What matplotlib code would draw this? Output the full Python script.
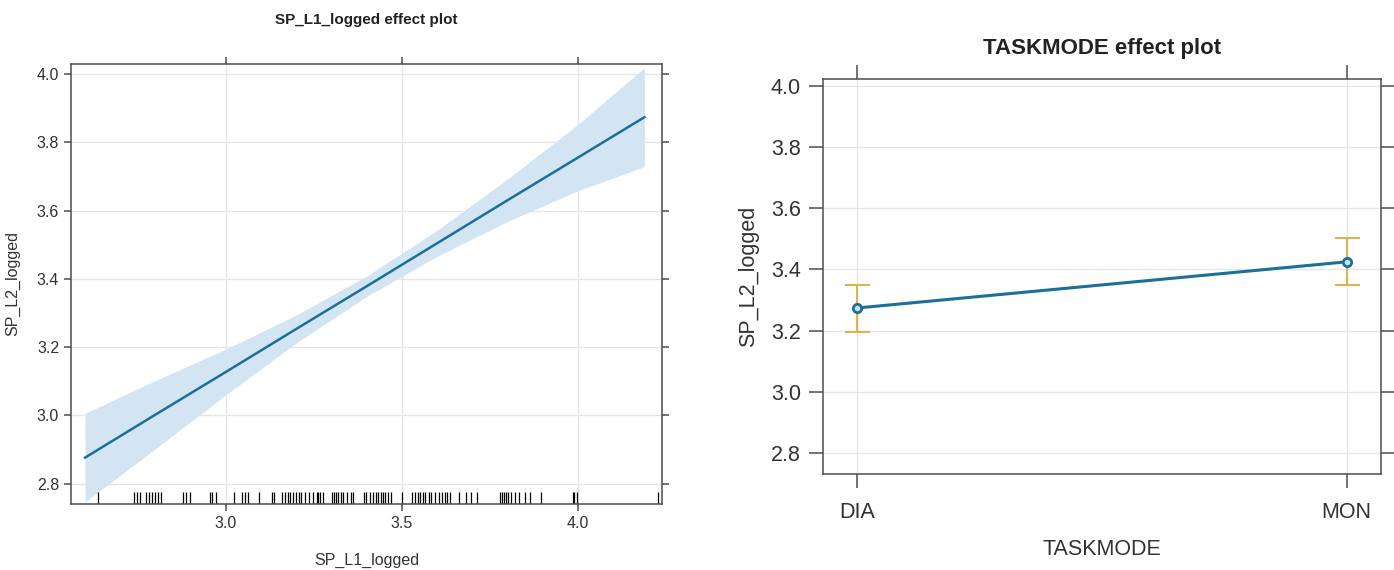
import numpy as np
import matplotlib.pyplot as plt
from matplotlib.transforms import blended_transform_factory

plt.rcParams['font.family'] = ['Liberation Sans', 'DejaVu Sans']

# left panel: fitted effect of SP_L1_logged with confidence band
sp_l1 = [2.60, 2.80, 3.00, 3.20, 3.40, 3.60, 3.80, 4.00, 4.19]
fit = [2.876, 3.002, 3.127, 3.253, 3.378, 3.504, 3.630, 3.755, 3.874]
lower = [2.746, 2.902, 3.060, 3.212, 3.348, 3.466, 3.568, 3.658, 3.729]
upper = [3.006, 3.102, 3.194, 3.294, 3.408, 3.542, 3.692, 3.852, 4.019]

# observed SP_L1_logged values (rug)
rug = [2.637, 2.739, 2.747, 2.755, 2.774, 2.783, 2.790, 2.799, 2.807, 2.815,
       2.877, 2.886, 2.899, 2.955, 2.962, 2.973, 3.024, 3.046, 3.054, 3.062,
       3.095, 3.130, 3.138, 3.160, 3.168, 3.176, 3.182, 3.192, 3.200, 3.209,
       3.214, 3.225, 3.236, 3.247, 3.258, 3.263, 3.268, 3.276, 3.301, 3.307,
       3.312, 3.320, 3.328, 3.334, 3.345, 3.355, 3.363, 3.393, 3.399, 3.410,
       3.418, 3.426, 3.434, 3.440, 3.448, 3.453, 3.462, 3.470, 3.502, 3.529,
       3.538, 3.546, 3.551, 3.560, 3.567, 3.578, 3.582, 3.595, 3.605, 3.614,
       3.622, 3.629, 3.636, 3.663, 3.682, 3.698, 3.714, 3.779, 3.785, 3.790,
       3.796, 3.801, 3.812, 3.823, 3.834, 3.850, 3.864, 3.897, 3.986, 3.991,
       3.997, 4.230]

# right panel: TASKMODE effect
modes = ['DIA', 'MON']
mode_fit = [3.274, 3.425]
mode_low = [3.195, 3.348]
mode_high = [3.348, 3.503]

line_col = '#1b6f98'
band_col = '#d3e5f2'
err_col = '#d9b451'
grid_col = '#e6e6e6'
spine_col = '#4d4d4d'
text_col = '#333333'

W, H = 1394, 570
fig = plt.figure(figsize=(W / 100, H / 100), dpi=100)


def px_axes(x0, y0, x1, y1):
    return fig.add_axes([x0 / W, 1 - y1 / H, (x1 - x0) / W, (y1 - y0) / H])


def style(ax, size, ticklen):
    for s in ax.spines.values():
        s.set_color(spine_col)
        s.set_linewidth(1.1)
    ax.tick_params(direction='out', length=ticklen, width=1.1, color=spine_col,
                   labelsize=size, labelcolor=text_col,
                   top=True, right=True, labeltop=False, labelright=False)
    ax.grid(True, color=grid_col, lw=1)
    ax.set_axisbelow(True)


# ---- left panel
ax1 = px_axes(71, 64, 662, 504)
ax1.fill_between(sp_l1, lower, upper, color=band_col, lw=0)
ax1.plot(sp_l1, fit, color=line_col, lw=1.8)
trans = blended_transform_factory(ax1.transData, ax1.transAxes)
ax1.vlines(rug, 0, 0.028, transform=trans, color='black', lw=0.9)
ax1.set_xlim(2.56, 4.24)
ax1.set_ylim(2.74, 4.03)
ax1.set_xticks([3.0, 3.5, 4.0])
ax1.set_yticks([2.8, 3.0, 3.2, 3.4, 3.6, 3.8, 4.0])
ax1.xaxis.set_major_formatter(plt.FormatStrFormatter('%.1f'))
ax1.yaxis.set_major_formatter(plt.FormatStrFormatter('%.1f'))
style(ax1, 11.5, 5)
ax1.set_xlabel('SP_L1_logged', fontsize=11.5, color=text_col, labelpad=16)
ax1.set_ylabel('SP_L2_logged', fontsize=11.5, color=text_col, labelpad=12)
ax1.set_title('SP_L1_logged effect plot', fontsize=11, fontweight='bold',
              color='#222222', pad=29)

# ---- right panel
ax2 = px_axes(823, 79, 1381, 474)
xpos = np.arange(1, len(modes) + 1)
err = [np.array(mode_fit) - np.array(mode_low), np.array(mode_high) - np.array(mode_fit)]
ax2.errorbar(xpos, mode_fit, yerr=err, fmt='none', ecolor=err_col, elinewidth=1.5,
             capsize=9, capthick=1.5)
ax2.plot(xpos, mode_fit, color=line_col, lw=2.2, marker='o', ms=6,
         mfc='#cfe3f0', mec=line_col, mew=2)
ax2.set_xlim(0.93, 2.07)
ax2.set_ylim(2.731, 4.023)
ax2.set_xticks(xpos)
ax2.set_xticklabels(modes)
ax2.set_yticks([2.8, 3.0, 3.2, 3.4, 3.6, 3.8, 4.0])
ax2.yaxis.set_major_formatter(plt.FormatStrFormatter('%.1f'))
style(ax2, 15.5, 10)
ax2.tick_params(axis='x', pad=10)
ax2.tick_params(axis='y', pad=6)
ax2.set_xlabel('TASKMODE', fontsize=15.5, color=text_col, labelpad=12)
ax2.set_ylabel('SP_L2_logged', fontsize=15.5, color=text_col, labelpad=8)
ax2.set_title('TASKMODE effect plot', fontsize=16, fontweight='bold',
              color='#222222', pad=18)

fig.savefig('out.png', dpi=100)
